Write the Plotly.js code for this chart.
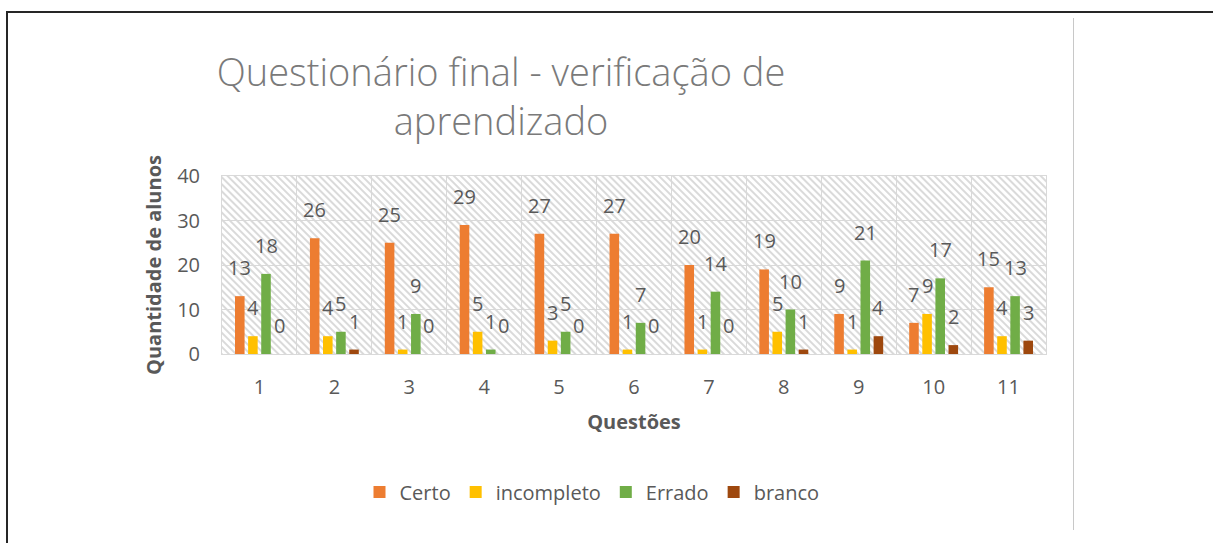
<!DOCTYPE html>
<html>
<head>
<meta charset="utf-8">
<script src="https://cdn.plot.ly/plotly-3.0.1.min.js"></script>
<style>
  html, body { margin: 0; padding: 0; background: #fff; }
  #wrap { position: relative; width: 1213px; height: 543px; overflow: hidden; }
  #frame { position: absolute; left: 6px; top: 11px; right: -10px; bottom: -10px;
           border-top: 2px solid #262626; border-left: 2px solid #262626; pointer-events: none; }
  #rline { position: absolute; left: 1073px; top: 18px; width: 1px; height: 512px; background: #c8c8c8; }
  #chart { position: absolute; left: 0; top: 0; width: 1213px; height: 543px; }
</style>
</head>
<body>
<div id="wrap">
  <div id="frame"></div>
  <div id="rline"></div>
  <div id="chart"></div>
</div>
<script>
// ---- data ----
const categories = ["1", "2", "3", "4", "5", "6", "7", "8", "9", "10", "11"];
const seriesNames = ["Certo", "incompleto", "Errado", "branco"];
const certo      = [13, 26, 25, 29, 27, 27, 20, 19, 9, 7, 15];
const incompleto = [4, 4, 1, 5, 3, 1, 1, 5, 1, 9, 4];
const errado     = [18, 5, 9, 1, 5, 7, 14, 10, 21, 17, 13];
const branco     = [0, 1, 0, 0, 0, 0, 0, 1, 4, 2, 3];
const yTicks = [0, 10, 20, 30, 40];

const seriesValues = [certo, incompleto, errado, branco];
const colors = ["#ED7D31", "#FFC000", "#70AD47", "#9E480E"];

const textColor = "#595959";
const fontFamily = "'Open Sans', sans-serif";

const W = 1213, H = 543;
const margin = { l: 222, r: 167, t: 176, b: 189 };
const bargap = 0.3, bargroupgap = 0.27;
const plotW = W - margin.l - margin.r;
const plotH = H - margin.t - margin.b;
const slot = plotW / categories.length * (1 - bargap) / seriesValues.length;

const traces = seriesValues.map((vals, s) => ({
  type: "bar",
  name: seriesNames[s],
  x: categories,
  y: vals,
  marker: { color: colors[s] },
  hoverinfo: "x+y+name"
}));

// data labels: one per bar, placed above it (index position on the category axis)
const annotations = [];
seriesValues.forEach((vals, s) => {
  vals.forEach((v, i) => {
    annotations.push({
      x: i, y: v, xref: "x", yref: "y",
      text: String(v), showarrow: false,
      xanchor: "center", yanchor: "bottom",
      xshift: (s - (seriesValues.length - 1) / 2) * slot,
      yshift: 13,
      font: { family: fontFamily, size: 20, color: textColor }
    });
  });
});

const hatchSvg =
  '<svg xmlns="http://www.w3.org/2000/svg" width="' + plotW + '" height="' + plotH + '">' +
  '<defs><pattern id="p" patternUnits="userSpaceOnUse" width="5" height="5" patternTransform="rotate(45)">' +
  '<line x1="0" y1="1" x2="5" y2="1" stroke="#d3d3d3" stroke-width="1.7"/></pattern></defs>' +
  '<rect width="100%" height="100%" fill="url(#p)"/></svg>';

const layout = {
  width: W, height: H,
  margin: margin,
  paper_bgcolor: "rgba(0,0,0,0)",
  plot_bgcolor: "rgba(0,0,0,0)",
  font: { family: fontFamily, color: textColor, size: 20 },
  title: {
    text: "Questionário final - verificação de<br>aprendizado",
    font: { family: fontFamily, size: 38, color: "#7a7a7a", weight: 300 },
    xref: "container", yref: "container",
    x: 501 / W, xanchor: "center",
    y: 1 - 86 / H, yanchor: "top"
  },
  barmode: "group",
  bargap: bargap,
  bargroupgap: bargroupgap,
  xaxis: {
    type: "category",
    tickson: "boundaries",
    range: [-0.5, categories.length - 0.5],
    showgrid: true, gridcolor: "#d9d9d9", gridwidth: 1,
    showline: true, linecolor: "#d9d9d9", mirror: true,
    ticks: "", ticklabelstandoff: 15,
    tickfont: { size: 20, color: textColor },
    title: { text: "Questões", font: { size: 20, color: textColor, weight: "bold" }, standoff: 15 },
    fixedrange: true
  },
  yaxis: {
    range: [0, 40],
    tickvals: yTicks,
    showgrid: true, gridcolor: "#d9d9d9", gridwidth: 1,
    showline: true, linecolor: "#d9d9d9", mirror: true,
    zeroline: false,
    ticks: "outside", ticklen: 17, tickcolor: "rgba(0,0,0,0)",
    tickfont: { size: 20, color: textColor },
    title: { text: "Quantidade de alunos", font: { size: 20, color: textColor, weight: "bold" }, standoff: 10 },
    fixedrange: true
  },
  legend: {
    orientation: "h",
    x: (592 - margin.l) / plotW, xanchor: "center",
    y: -(492 - (H - margin.b)) / plotH, yanchor: "middle",
    font: { size: 20, color: textColor },
    itemwidth: 30,
    traceorder: "normal"
  },
  annotations: annotations,
  images: [{
    source: "data:image/svg+xml;charset=utf-8," + encodeURIComponent(hatchSvg),
    xref: "paper", yref: "paper", x: 0, y: 1, sizex: 1, sizey: 1,
    sizing: "stretch", layer: "below", xanchor: "left", yanchor: "top"
  }],
  showlegend: true
};

Plotly.newPlot("chart", traces, layout, { displayModeBar: false, staticPlot: true });
</script>
</body>
</html>
